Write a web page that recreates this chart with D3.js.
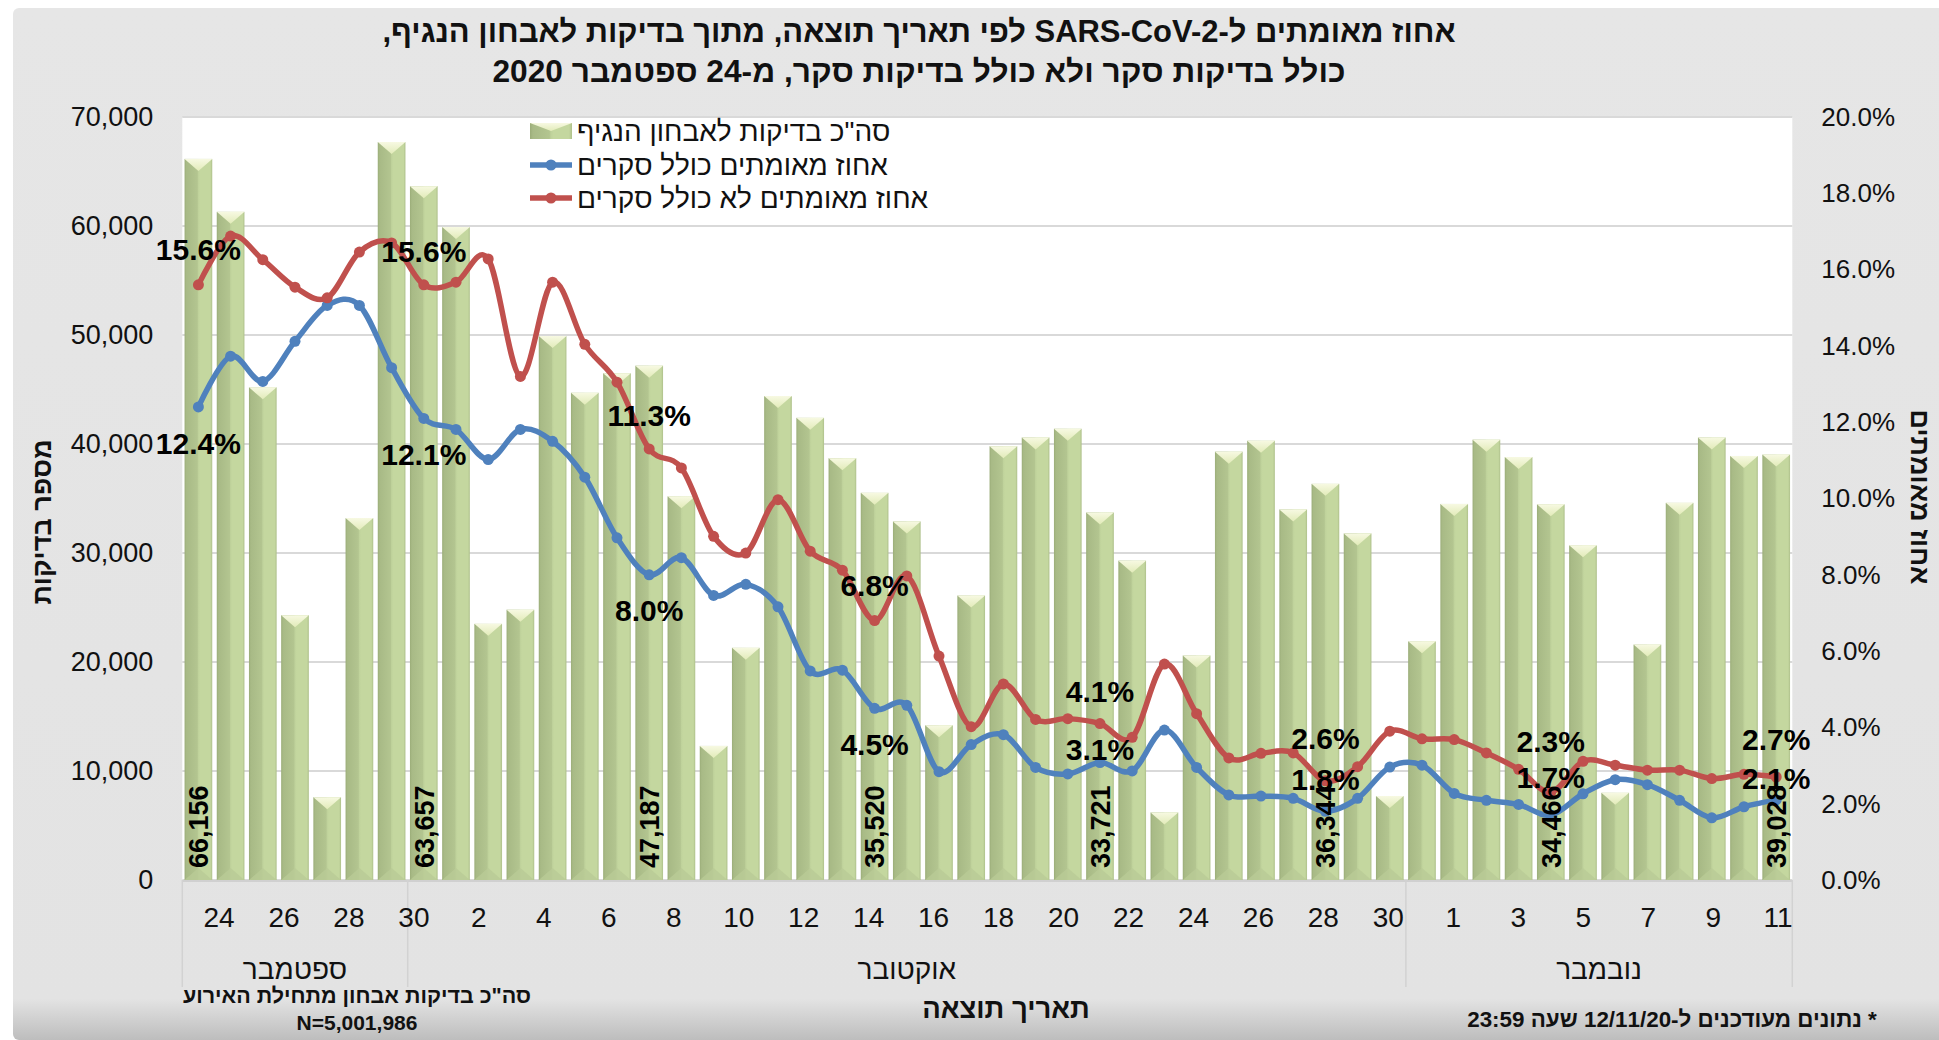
<!DOCTYPE html>
<html><head><meta charset="utf-8">
<script src="https://cdn.jsdelivr.net/npm/d3@7"></script>
<style>
body{margin:0;background:#fff;}
svg{display:block;font-family:"Liberation Sans",Arial,"DejaVu Sans",sans-serif;}
</style>
</head><body>
<svg id="c" width="1939" height="1040"></svg>
<script>
// ---------- DATA ----------
const days = [24,25,26,27,28,29,30,
  1,2,3,4,5,6,7,8,9,10,11,12,13,14,15,16,17,18,19,20,21,22,23,24,25,26,27,28,29,30,31,
  1,2,3,4,5,6,7,8,9,10,11,12];
const months = ["ספטמבר","אוקטובר","נובמבר"];
const tickLabels = ["24","26","28","30","2","4","6","8","10","12","14","16","18","20","22","24","26","28","30","1","3","5","7","9","11"];
// total tests for diagnosis
const tests = [66156,61300,45200,24300,7600,33200,67700,
  63657,59900,23500,24800,49900,44700,46500,
  47187,35200,12300,21300,44400,42400,38700,
  35520,32900,14200,26100,39800,40600,41400,
  33721,29300,6200,20600,39300,40300,34000,
  36344,31800,7700,21900,34500,40400,38800,
  34466,30700,8000,21600,34600,40600,38900,
  39028];
// % positive including surveys (blue)
const pctWithSurvey = [12.4,13.73,13.07,14.12,15.06,15.06,13.43,
  12.1,11.81,11.02,11.81,11.5,10.56,8.97,
  8.0,8.45,7.46,7.75,7.16,5.48,5.5,
  4.5,4.58,2.84,3.55,3.81,2.95,2.78,
  3.08,2.86,3.93,2.95,2.23,2.2,2.14,
  1.8,2.14,2.96,3.01,2.27,2.09,1.98,
  1.7,2.26,2.63,2.5,2.09,1.63,1.92,
  2.1];
// % positive excluding surveys (red)
const pctNoSurvey = [15.6,16.88,16.26,15.54,15.26,16.46,16.7,
  15.6,15.67,16.28,13.2,15.67,14.04,13.05,
  11.3,10.8,9.01,8.57,9.97,8.62,8.12,
  6.8,7.97,5.87,4.02,5.14,4.21,4.23,
  4.1,3.74,5.66,4.36,3.2,3.32,3.33,
  2.6,2.97,3.9,3.7,3.68,3.33,2.9,
  2.3,3.11,3.01,2.88,2.88,2.66,2.77,
  2.7];
const labelIdx = [0,7,14,21,28,35,42,49];
const leftTicks = [0,10000,20000,30000,40000,50000,60000,70000];
const rightTicks = [0,2,4,6,8,10,12,14,16,18,20];
const legendNames = ['סה"כ בדיקות לאבחון הנגיף','אחוז מאומתים כולל סקרים','אחוז מאומתים לא כולל סקרים'];

// ---------- STYLE / LAYOUT ----------
const W=1939,H=1040;
const P={l:182.3,r:1792.3,t:117,b:880};
const RED="#c0504d", BLUE="#4f81bd";
// label offsets (px) relative to point, per labelled position
const redDy  = [-36,-34,-34,-35,-32,-43,-51,-38];
const blueDy = [36,36,35,36,-13,-32,-38,-22];

const svg=d3.select("#c");
const defs=svg.append("defs");

const pg=defs.append("linearGradient").attr("id","panel").attr("x1",0).attr("y1",0).attr("x2",0).attr("y2",1);
pg.append("stop").attr("offset",0).attr("stop-color","#e6e6e6");
pg.append("stop").attr("offset",0.96).attr("stop-color","#e3e3e3");
pg.append("stop").attr("offset",1).attr("stop-color","#bdbdbd");

const bg=defs.append("linearGradient").attr("id","barG").attr("x1",0).attr("y1",0).attr("x2",1).attr("y2",0);
[[0,"#9bad79"],[0.07,"#a8ba86"],[0.46,"#b3c590"],[0.5,"#bfd29b"],[0.56,"#c4d79f"],[0.93,"#c4d79f"],[1,"#aec08b"]]
 .forEach(([o,c])=>bg.append("stop").attr("offset",o).attr("stop-color",c));
const tg=defs.append("linearGradient").attr("id","topG").attr("x1",0).attr("y1",0).attr("x2",0).attr("y2",1);
tg.append("stop").attr("offset",0).attr("stop-color","#f7f9e2");
tg.append("stop").attr("offset",1).attr("stop-color","#e2ebb9");

svg.append("rect").attr("x",0).attr("y",0).attr("width",W).attr("height",H).attr("fill","#fff");
svg.append("rect").attr("x",13).attr("y",8).attr("width",W).attr("height",H-8).attr("rx",6).attr("fill","url(#panel)");
svg.append("rect").attr("x",P.l).attr("y",P.t).attr("width",P.r-P.l).attr("height",P.b-P.t).attr("fill","#fff");

// scales
const x=d3.scaleBand().domain(d3.range(tests.length)).range([P.l,P.r]).paddingInner(0.14).paddingOuter(0.07);
const yL=d3.scaleLinear().domain([0,70000]).range([P.b,P.t]);
const yR=d3.scaleLinear().domain([0,20]).range([P.b,P.t]);
const cx=i=>x(i)+x.bandwidth()/2;

svg.append("g").selectAll("line").data(leftTicks).join("line")
  .attr("x1",P.l).attr("x2",P.r).attr("y1",d=>yL(d)).attr("y2",d=>yL(d))
  .attr("stroke","#d9d9d9").attr("stroke-width",2);

const gL=svg.append("g").attr("transform",`translate(${P.l},0)`)
  .call(d3.axisLeft(yL).tickValues(leftTicks).tickFormat(d3.format(",")).tickSize(0).tickPadding(29));
gL.select(".domain").remove();
gL.selectAll("text").attr("font-size",27).attr("fill","#111").attr("font-family","Liberation Sans, Arial, sans-serif");

const gR=svg.append("g").attr("transform",`translate(${P.r},0)`)
  .call(d3.axisRight(yR).tickValues(rightTicks).tickFormat(d=>d.toFixed(1)+"%").tickSize(0).tickPadding(29));
gR.select(".domain").remove();
gR.selectAll("text").attr("font-size",26).attr("fill","#111").attr("font-family","Liberation Sans, Arial, sans-serif");

// bars
const bars=svg.append("g").selectAll("g").data(tests).join("g");
bars.append("rect").attr("x",(d,i)=>x(i)).attr("y",d=>yL(d)).attr("width",x.bandwidth())
  .attr("height",d=>P.b-yL(d)).attr("fill","url(#barG)");
bars.append("path").attr("d",(d,i)=>{const x0=x(i),x1=x0+x.bandwidth(),t=yL(d),h=Math.min(12,P.b-t);
  return `M${x0},${t}L${x1},${t}L${(x0+x1)/2},${t+h}Z`;}).attr("fill","url(#topG)");
bars.append("path").attr("d",(d,i)=>{const x0=x(i),x1=x0+x.bandwidth(),h=Math.min(12,P.b-yL(d));
  return `M${x0},${P.b}L${x1},${P.b}L${(x0+x1)/2},${P.b-h}Z`;}).attr("fill","#b9cb96").attr("opacity",0.8);

svg.append("line").attr("x1",P.l).attr("x2",P.r).attr("y1",P.b+1).attr("y2",P.b+1).attr("stroke","#d0d0d0").attr("stroke-width",2);

// month separators & labels
const monthStarts=[0]; days.forEach((d,i)=>{ if(i>0 && d<days[i-1]) monthStarts.push(i); });
const bounds=monthStarts.concat([days.length]);
const sepX=k=> k===days.length? P.r : P.l + k*x.step();
svg.append("g").selectAll("line").data(bounds).join("line")
  .attr("x1",sepX).attr("x2",sepX).attr("y1",P.b).attr("y2",987).attr("stroke","#d2d2d2").attr("stroke-width",1.5);
svg.append("g").selectAll("text").data(months).join("text")
  .attr("x",(m,j)=>(sepX(bounds[j])+sepX(bounds[j+1]))/2).attr("y",979)
  .attr("text-anchor","middle").attr("font-size",28).attr("fill","#111").text(d=>d);

// day tick labels
const xt=d3.scalePoint().domain(d3.range(tickLabels.length))
  .range([P.l+1.14*x.step(), P.l+49.56*x.step()]);
svg.append("g").selectAll("text").data(tickLabels).join("text")
  .attr("x",(d,k)=>xt(k)).attr("y",927).attr("text-anchor","middle")
  .attr("font-size",28).attr("fill","#111").text(d=>d);

// lines
const line=(arr)=>d3.line().x((d,i)=>cx(i)).y(d=>yR(d)).curve(d3.curveCatmullRom.alpha(0))(arr);
[[pctWithSurvey,BLUE],[pctNoSurvey,RED]].forEach(([arr,col])=>{
  svg.append("path").attr("d",line(arr)).attr("fill","none").attr("stroke",col).attr("stroke-width",5.5).attr("stroke-linejoin","round");
  svg.append("g").selectAll("circle").data(arr).join("circle")
    .attr("cx",(d,i)=>cx(i)).attr("cy",d=>yR(d)).attr("r",5.5).attr("fill",col);
});

// value labels for bars
svg.append("g").selectAll("text").data(labelIdx).join("text")
  .attr("transform",i=>`translate(${cx(i)},868) rotate(-90)`)
  .attr("dy","0.36em").attr("font-size",27).attr("font-weight","bold").attr("fill","#000")
  .text(i=>d3.format(",")(tests[i]));

// percentage labels
svg.append("g").selectAll("text").data(labelIdx).join("text")
  .attr("x",i=>cx(i)).attr("y",(i,k)=>yR(pctNoSurvey[i])+redDy[k]).attr("dy","0.36em")
  .attr("text-anchor","middle").attr("font-size",30).attr("font-weight","bold").attr("fill","#000")
  .text(i=>pctNoSurvey[i].toFixed(1)+"%");
svg.append("g").selectAll("text").data(labelIdx).join("text")
  .attr("x",i=>cx(i)).attr("y",(i,k)=>yR(pctWithSurvey[i])+blueDy[k]).attr("dy","0.36em")
  .attr("text-anchor","middle").attr("font-size",30).attr("font-weight","bold").attr("fill","#000")
  .text(i=>pctWithSurvey[i].toFixed(1)+"%");

// legend
const lg=svg.append("g");
const ly=[131,165,198];
lg.append("rect").attr("x",530).attr("y",ly[0]-8).attr("width",42).attr("height",16).attr("fill","url(#barG)");
lg.append("path").attr("d",`M530,${ly[0]-8}L572,${ly[0]-8}L551,${ly[0]}Z`).attr("fill","url(#topG)");
[[BLUE,ly[1]],[RED,ly[2]]].forEach(([c,yy])=>{
  lg.append("line").attr("x1",530).attr("x2",572).attr("y1",yy).attr("y2",yy).attr("stroke",c).attr("stroke-width",5.5);
  lg.append("circle").attr("cx",551).attr("cy",yy).attr("r",5.5).attr("fill",c);
});
lg.selectAll("text").data(legendNames).join("text")
  .attr("x",577).attr("y",(d,i)=>ly[i]+10).attr("font-size",28).attr("fill","#111").text(d=>d);

// titles
const title=svg.append("g").attr("font-weight","bold").attr("font-size",31).attr("fill","#111");
title.append("text").attr("x",919).attr("y",42).attr("text-anchor","middle").attr("direction","rtl")
  .attr("textLength",1073).attr("lengthAdjust","spacingAndGlyphs")
  .text("אחוז מאומתים ל-SARS-CoV-2 לפי תאריך תוצאה, מתוך בדיקות לאבחון הנגיף,");
title.append("text").attr("x",919).attr("y",82).attr("text-anchor","middle").attr("direction","rtl")
  .attr("textLength",853).attr("lengthAdjust","spacingAndGlyphs")
  .text("כולל בדיקות סקר ולא כולל בדיקות סקר, מ-24 ספטמבר 2020");

svg.append("text").attr("transform","translate(41,522) rotate(-90)").attr("dy","0.36em")
  .attr("text-anchor","middle").attr("font-weight","bold").attr("font-size",27).attr("fill","#111").text("מספר בדיקות");
svg.append("text").attr("transform","translate(1921,497) rotate(90)").attr("dy","0.36em")
  .attr("text-anchor","middle").attr("font-weight","bold").attr("font-size",27).attr("fill","#111").text("אחוז מאומתים");
svg.append("text").attr("x",1006).attr("y",1018).attr("text-anchor","middle").attr("font-weight","bold")
  .attr("font-size",27.5).attr("fill","#111").text("תאריך תוצאה");
svg.append("text").attr("x",357).attr("y",1003).attr("text-anchor","middle").attr("direction","rtl").attr("font-weight","bold")
  .attr("font-size",21.5).attr("fill","#111").text('סה"כ בדיקות אבחון מתחילת האירוע');
svg.append("text").attr("x",357).attr("y",1030).attr("text-anchor","middle").attr("font-weight","bold")
  .attr("font-size",21).attr("fill","#111").text("N=5,001,986");
svg.append("text").attr("x",1672).attr("y",1027).attr("text-anchor","middle").attr("direction","rtl").attr("font-weight","bold")
  .attr("font-size",22.4).attr("fill","#111").text("* נתונים מעודכנים ל-12/11/20 שעה 23:59");
</script>
</body></html>
